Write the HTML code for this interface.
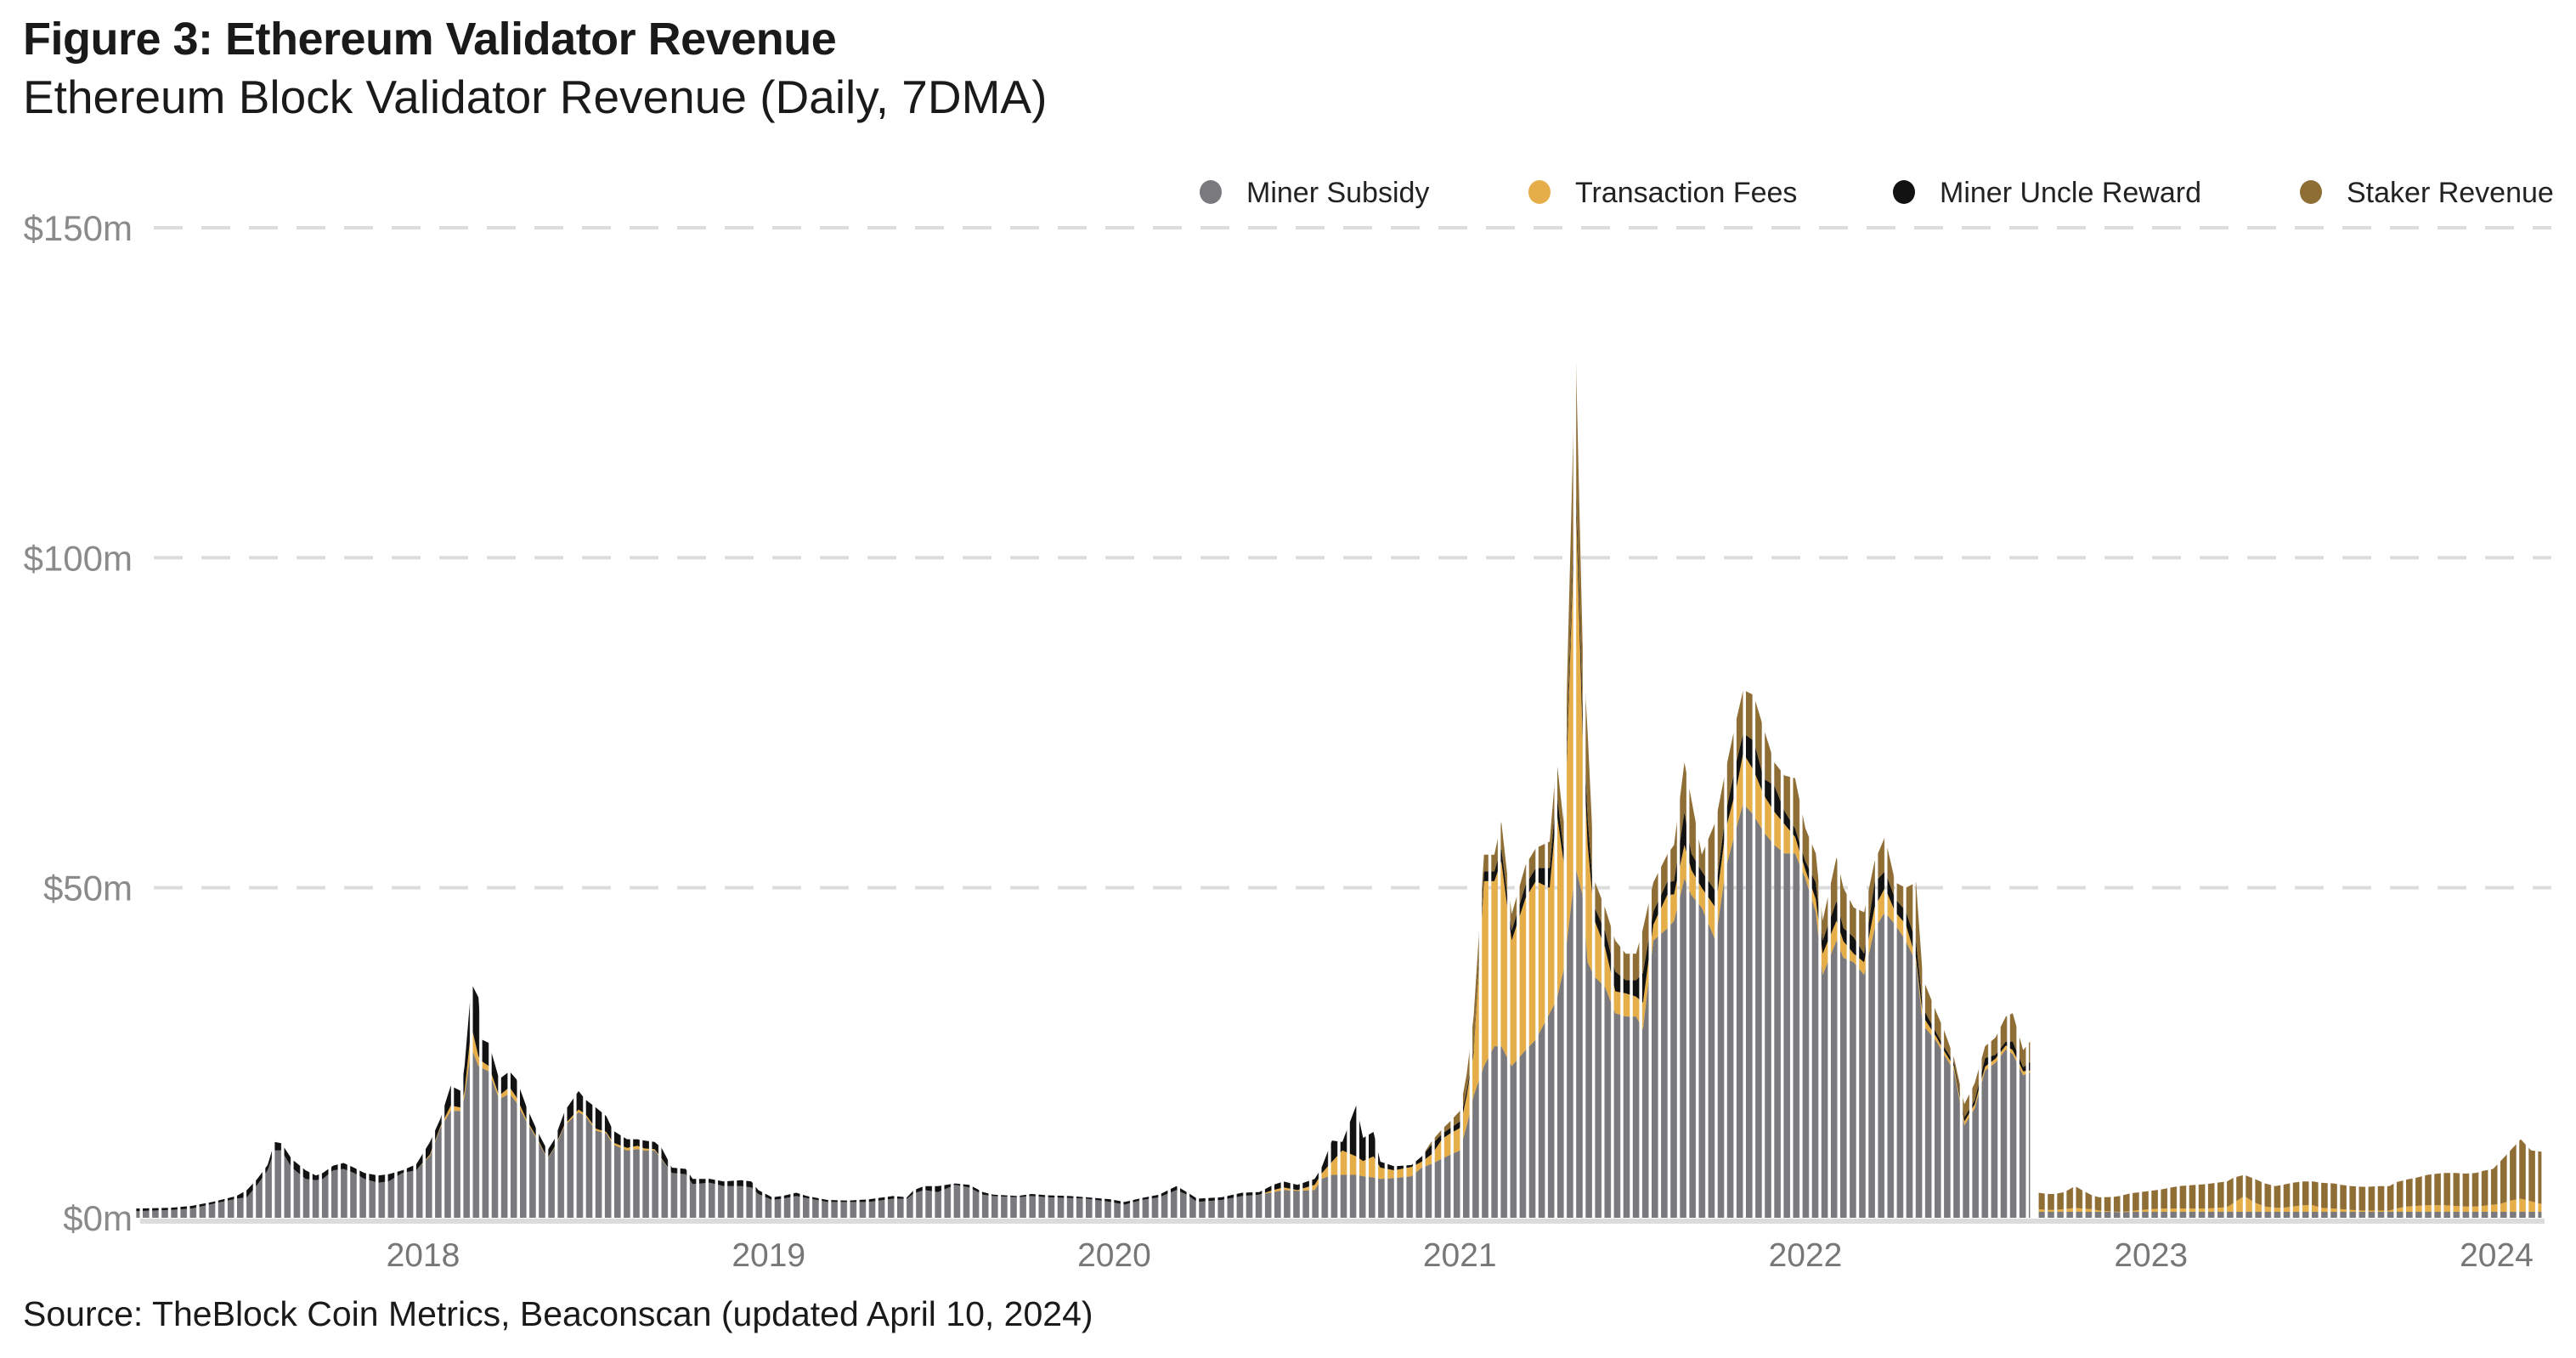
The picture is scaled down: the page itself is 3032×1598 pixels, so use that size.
<!DOCTYPE html>
<html><head><meta charset="utf-8"><style>
html,body{margin:0;padding:0;background:#fff;}
body{width:3032px;height:1598px;overflow:hidden;position:relative;font-family:"Liberation Sans",sans-serif;}
</style></head><body>
<svg id="chart" width="3032" height="1598" viewBox="0 0 3032 1598" xmlns="http://www.w3.org/2000/svg" style="position:absolute;left:0;top:0">
<defs>
<pattern id="stripes" patternUnits="userSpaceOnUse" x="168" y="0" width="11.1" height="1598">
<rect x="0" y="0" width="7.6" height="1598" fill="#fff"/>
</pattern>
<mask id="stripeMask" maskUnits="userSpaceOnUse" x="0" y="0" width="3032" height="1598">
<rect x="0" y="0" width="3032" height="1598" fill="url(#stripes)"/>
</mask>
</defs>
<text x="27" y="64" font-size="54" font-weight="bold" fill="#1a1a1a" letter-spacing="-0.5">Figure 3: Ethereum Validator Revenue</text>
<text x="27" y="133" font-size="55" fill="#1a1a1a">Ethereum Block Validator Revenue (Daily, 7DMA)</text>
<g id="legend"></g>
<g id="grid"></g>
<g id="yaxis"></g>
<line x1="165" y1="1437" x2="2995" y2="1437" stroke="#dcdcdc" stroke-width="6"/>
<g id="data" mask="url(#stripeMask)"></g>
<g id="xaxis"></g>
<text x="27" y="1560" font-size="41" fill="#1a1a1a">Source: TheBlock Coin Metrics, Beaconscan (updated April 10, 2024)</text>
</svg>
<script>
const years = [2017.17,2017.27,2017.33,2017.39,2017.46,2017.49,2017.52,2017.55,2017.57,2017.59,2017.62,2017.66,2017.69,2017.71,2017.74,2017.77,2017.80,2017.83,2017.87,2017.90,2017.94,2017.98,
2018.02,2018.05,2018.08,2018.11,2018.12,2018.14,2018.16,2018.17,2018.19,2018.22,2018.25,2018.27,2018.30,2018.33,2018.36,2018.38,2018.41,2018.45,2018.47,2018.50,2018.53,2018.55,2018.59,2018.62,2018.64,2018.67,2018.69,2018.72,2018.76,2018.78,2018.83,2018.87,2018.92,2018.95,2018.97,
2019.01,2019.04,2019.08,2019.11,2019.17,2019.23,2019.29,2019.36,2019.40,2019.42,2019.45,2019.49,2019.54,2019.58,2019.62,2019.65,2019.72,2019.76,2019.81,2019.87,2019.92,2019.99,
2020.03,2020.08,2020.13,2020.18,2020.21,2020.24,2020.31,2020.37,2020.42,2020.46,2020.49,2020.53,2020.58,2020.60,2020.63,2020.66,2020.70,2020.72,2020.75,2020.77,2020.81,2020.86,2020.89,2020.92,2020.95,2020.97,2021.00,
2021.02,2021.04,2021.07,2021.10,2021.12,2021.15,2021.19,2021.22,2021.26,2021.28,2021.30,2021.335,2021.355,2021.37,2021.39,2021.42,2021.45,2021.48,2021.51,2021.53,2021.56,2021.60,2021.62,2021.65,2021.67,2021.70,2021.74,2021.77,2021.80,2021.82,2021.85,2021.88,2021.91,2021.94,2021.97,
2022.00,2022.03,2022.05,2022.09,2022.11,2022.14,2022.17,2022.20,2022.23,2022.26,2022.29,2022.32,2022.34,2022.38,2022.40,2022.43,2022.46,2022.49,2022.52,2022.55,2022.58,2022.60,2022.63,2022.65,
2022.675,2022.70,2022.72,2022.75,2022.78,2022.80,2022.83,2022.85,2022.89,2022.91,2022.94,2022.97,2023.00,2023.03,2023.06,2023.08,2023.13,2023.16,2023.19,2023.22,2023.24,2023.27,2023.30,2023.33,2023.36,2023.38,2023.41,2023.44,2023.47,2023.49,2023.53,2023.55,2023.58,2023.61,2023.63,2023.66,2023.69,2023.71,2023.74,2023.77,2023.80,2023.83,2023.85,2023.88,2023.91,2023.94,2023.96,2023.99,2024.01,2024.04,2024.07,2024.10,2024.13];
const minerSubsidy = [1.0,1.2,1.4,2.1,2.9,3.1,5.0,7.2,10.2,10.2,7.6,5.9,5.7,5.9,7.2,7.4,6.8,5.9,5.3,5.5,6.8,7.2,
9.4,13.6,16.2,16.2,18.4,25.7,23.0,22.7,22.2,18.0,18.8,17.5,14.5,11.9,8.9,10.6,14.0,16.0,15.4,13.2,12.8,11.1,10.2,10.4,10.2,10.2,8.9,6.8,6.6,5.1,5.3,4.8,4.8,4.6,3.6,
2.7,2.9,3.3,3.0,2.4,2.4,2.4,2.9,2.9,3.7,4.2,3.9,5.0,4.6,3.5,3.3,3.1,3.3,3.1,3.0,2.9,2.4,
2.0,2.7,3.1,4.2,3.5,2.4,2.7,3.3,3.5,3.9,4.2,4.1,4.2,5.9,6.5,6.5,6.5,6.3,6.1,5.9,6.0,6.3,7.6,8.2,9.0,9.5,10.2,
14.0,18.5,23,26,26,23,25.4,27,31,33,37.5,53,49,38.7,36.5,35,31,30.5,30.5,28.6,42,43.8,45,51.4,48.9,47,42,53,59,62.8,61,58.4,56.5,55.2,55.2,
51.4,46.3,36.8,42,39.4,38.7,36.8,43.8,46.3,44.4,42,38.7,29.2,26.7,24.8,22.3,14,16.6,22.3,23.5,25.5,24.8,21.6,22,
0.9,0.9,0.9,0.9,0.9,0.9,0.9,0.9,0.9,0.85,0.9,0.9,0.9,0.9,0.9,0.9,0.9,0.9,0.9,0.9,0.9,0.9,0.9,0.9,0.9,0.9,0.9,0.9,0.9,0.9,0.9,0.9,0.9,0.9,0.9,0.9,0.9,0.9,0.9,0.9,0.9,0.9,0.9,0.9,0.9,0.9,0.9,0.9,0.9,0.9,0.9,0.9,0.9];
const transactionFees = [0,0,0,0,0,0,0,0,0,0,0,0,0,0,0,0,0,0,0,0,0,0,
0.2,0.2,0.8,0.5,0.8,3.3,1.5,1.0,0.8,0.5,1.0,0.8,0.3,0.2,0.1,0.1,0.2,0.4,0.3,0.3,0.2,0.3,0.4,0.5,0.3,0.2,0.1,0,0,0,0,0,0,0,0,
0,0,0,0,0,0,0,0,0,0,0,0,0,0,0,0,0,0,0,0,0,0,
0,0,0,0,0,0,0,0,0,0.3,0.4,0.1,0.8,0.8,2.0,3.7,2.8,2.3,3.2,1.7,1.2,1.4,0.9,1.5,3.0,3.2,3.4,
4.5,6.5,28,25,28,19,23,24,19,28.5,16.5,57,24.5,17.8,8.5,6,3.3,3.5,3,4,2.4,5.1,4,5.1,3.8,3,5,6,6,7.6,6.8,5.6,5,4.4,2.5,
1.3,2,3.2,3,2.5,1.3,1.9,3.2,3.7,1.9,2.5,0.6,1.3,0.6,0.6,0.6,0.6,0.6,0.6,0.6,0.6,0.6,0.6,0.3,
0.4,0.3,0.3,0.4,0.6,0.5,0.4,0.2,0.05,0.05,0.1,0.3,0.4,0.5,0.5,0.5,0.5,0.5,0.6,0.7,1.4,2.4,1.4,0.8,0.6,0.6,0.8,1.0,1.0,0.6,0.5,0.4,0.3,0.2,0.2,0.2,0.2,0.5,0.8,0.9,1.0,1.0,1.0,0.9,0.8,0.8,0.9,1.1,1.2,1.7,2.0,1.6,1.2];
const uncleReward = [0.4,0.3,0.4,0.3,0.4,1.1,0.9,0.8,1.3,1.1,1.3,1.3,0.7,0.9,0.7,0.9,0.8,0.9,1.1,1.1,0.4,0.9,
1.9,1.2,3.0,2.5,3.8,6.5,8.9,3.3,3.5,2.5,2.4,2.7,1.9,1.1,1.2,1.2,2.0,2.8,2.2,3.2,2.4,1.8,1.3,1.0,1.2,1.1,1.6,0.8,0.8,0.8,0.6,0.7,0.9,0.9,0.6,
0.4,0.4,0.5,0.3,0.3,0.2,0.4,0.4,0.2,0.5,0.6,0.9,0.2,0.4,0.4,0.2,0.2,0.3,0.3,0.3,0.2,0.4,
0.4,0.3,0.4,0.6,0.4,0.5,0.4,0.5,0.4,0.8,0.9,0.8,0.9,0.9,3.2,1.3,7.7,3.5,3.7,0.9,0.6,0.3,0.8,1.5,0.8,0.8,1.0,
0.8,0.5,1.5,1.5,2,1.5,2,2,3,3,2,2.5,4,4,2,2.5,3,2,2.5,4.5,2,2,2,5,2.5,2.5,2.5,2.5,4,3,4.5,2.5,4,2,1.3,
1.3,2.5,2,3,2,2.5,1.3,3.8,2.5,2,2,2.5,1.3,0.6,0.6,0.6,0.6,0.6,1.3,0.6,0.6,1.3,0.6,1.3,
0,0,0,0,0,0,0,0,0,0,0,0,0,0,0,0,0,0,0,0,0,0,0,0,0,0,0,0,0,0,0,0,0,0,0,0,0,0,0,0,0,0,0,0,0,0,0,0,0,0,0,0,0];
const stakerRevenue = [0,0,0,0,0,0,0,0,0,0,0,0,0,0,0,0,0,0,0,0,0,0,
0,0,0,0,0,0,0,0,0,0,0,0,0,0,0,0,0,0,0,0,0,0,0,0,0,0,0,0,0,0,0,0,0,0,0,
0,0,0,0,0,0,0,0,0,0,0,0,0,0,0,0,0,0,0,0,0,0,
0,0,0,0,0,0,0,0,0,0,0,0,0,0,0,0,0,0,0,0,0,0,0,0.5,0.7,1.0,1.6,
2.5,5,2.5,2.5,4,2.5,3,3,4,5,4,20,10,13,4,3.5,4.7,4,4,6.7,4.4,4.1,5.5,7.5,8.2,2.5,10.5,6.5,6.4,6.6,6.9,7.5,3.5,5.4,7.6,
5,4.4,3,6.6,6.1,4.5,6.3,3.2,5.2,2.5,3.5,9,4.4,3.1,2.6,0.7,2,2.6,1.8,2.6,3.8,4.3,2.6,3.1,
2.5,2.4,2.4,2.6,3.3,2.8,2.1,2.0,2.2,2.4,2.7,2.7,2.8,2.9,3.2,3.4,3.6,3.7,3.8,3.9,3.8,3.2,3.6,3.5,3.3,3.5,3.6,3.6,3.6,3.8,3.8,3.7,3.6,3.6,3.6,3.7,3.7,4.0,4.1,4.3,4.6,4.8,4.9,5.0,5.0,5.1,5.3,5.4,6.4,7.6,9.0,7.7,7.9];
const yTicks = [0,50,100,150];
const yTickLabels = ["$0m","$50m","$100m","$150m"];
const xTicks = [2018,2019,2020,2021,2022,2023,2024];
const legendLabels = ["Miner Subsidy","Transaction Fees","Miner Uncle Reward","Staker Revenue"];
const MERGE = 2022.665;

const NS = "http://www.w3.org/2000/svg";
const colors = ["#7a7a7e","#e6ae48","#121212","#8f6e36"];
const seriesNames = ["miner-subsidy-area","transaction-fees-area","miner-uncle-reward-area","staker-revenue-area"];
function xScale(yr){ return 498 + (yr - 2018) * 406.75; }
function yScale(v){ return 1433 - v * 7.767; }

const grid = document.getElementById('grid');
const yaxis = document.getElementById('yaxis');
yTicks.forEach((t,i)=>{
  if (t > 0) {
    const l = document.createElementNS(NS,'line');
    
    
    l.setAttribute('x1',181); l.setAttribute('x2',3003);
    l.setAttribute('y1',yScale(t)); l.setAttribute('y2',yScale(t));
    l.setAttribute('stroke','#dcdcdc'); l.setAttribute('stroke-width',4);
    l.setAttribute('stroke-dasharray','34 22');
    grid.appendChild(l);
  }
  const tx = document.createElementNS(NS,'text');
  
  
  tx.setAttribute('x',156); tx.setAttribute('y',yScale(t)+15);
  tx.setAttribute('text-anchor','end'); tx.setAttribute('font-size',42); tx.setAttribute('fill','#8a8a8a');
  tx.textContent = yTickLabels[i];
  yaxis.appendChild(tx);
});

const xaxis = document.getElementById('xaxis');
xTicks.forEach(t=>{
  const tx = document.createElementNS(NS,'text');
  
  
  tx.setAttribute('x',xScale(t)); tx.setAttribute('y',1490);
  tx.setAttribute('text-anchor','middle'); tx.setAttribute('font-size',39); tx.setAttribute('fill','#777');
  tx.textContent = String(t);
  xaxis.appendChild(tx);
});

const series = [minerSubsidy, transactionFees, uncleReward, stakerRevenue];
const dataG = document.getElementById('data');
const segs = [[],[]];
years.forEach((y,i)=>{ segs[y < MERGE ? 0 : 1].push(i); });
segs.forEach(idx=>{
  if (!idx.length) return;
  let base = idx.map(()=>0);
  series.forEach((s,k)=>{
    const top = idx.map((i,j)=>base[j] + s[i]);
    let d = '';
    idx.forEach((i,j)=>{ d += (j? 'L':'M') + xScale(years[i]).toFixed(1) + ',' + yScale(top[j]).toFixed(1); });
    for (let j = idx.length-1; j >= 0; j--) d += 'L' + xScale(years[idx[j]]).toFixed(1) + ',' + yScale(base[j]).toFixed(1);
    d += 'Z';
    const p = document.createElementNS(NS,'path');
    
    
    p.setAttribute('d', d);
    p.setAttribute('fill', colors[k]);
    dataG.appendChild(p);
    base = top;
  });
});

const legend = document.getElementById('legend');
const legendX = [1425,1812,2241,2720];
legendLabels.forEach((lab,i)=>{
  const c = document.createElementNS(NS,'ellipse');
  
  
  c.setAttribute('cx',legendX[i]); c.setAttribute('cy',226);
  c.setAttribute('rx',13); c.setAttribute('ry',14);
  c.setAttribute('fill',colors[i]);
  legend.appendChild(c);
  const t = document.createElementNS(NS,'text');
  
  
  t.setAttribute('x',legendX[i]+42); t.setAttribute('y',238);
  t.setAttribute('font-size',34); t.setAttribute('fill','#222');
  t.textContent = lab;
  legend.appendChild(t);
});
</script>
</body></html>
